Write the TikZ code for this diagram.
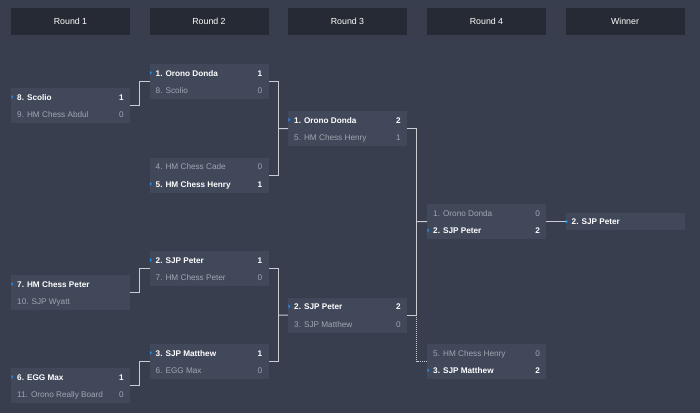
\documentclass[tikz,border=0pt]{standalone}
\usepackage{fontspec}
\setmainfont{Liberation Sans}
\definecolor{bgc}{RGB}{56,62,77}
\definecolor{hdrc}{RGB}{38,42,52}
\definecolor{boxc}{RGB}{65,72,90}
\definecolor{losec}{RGB}{160,165,176}
\definecolor{linec}{RGB}{200,203,210}
\definecolor{tric}{RGB}{30,136,229}
\tikzset{
  hdr/.style={fill=hdrc,text=white,minimum width=119pt,minimum height=27pt,inner sep=0pt,font=\fontsize{8.8}{10}\selectfont},
  mbox/.style={fill=boxc,minimum width=119pt,minimum height=35pt,inner sep=0pt},
  wbox/.style={fill=boxc,minimum width=119pt,minimum height=17.5pt,inner sep=0pt},
  wtxt/.style={text=white,inner sep=0pt,font=\fontsize{8.2}{10}\selectfont\bfseries},
  ltxt/.style={text=losec,inner sep=0pt,font=\fontsize{8.2}{10}\selectfont},
  conn/.style={draw=linec,line width=1pt},
  dotconn/.style={draw=linec,line width=1pt,dash pattern=on 1pt off 1pt},
  wtri/.style={fill=tric}
}
% name, x, ytop, style1, text1, score1, style2, text2, score2
\newcommand\mymatch[9]{%
  \node[mbox,anchor=north west] (#1) at (#2,#3) {};
  \node[#4,anchor=base west] (#1-a) at ({#2+6},{#3+12.2}) {#5};
  \node[#4,anchor=base east] (#1-as) at ({#2+113},{#3+12.2}) {#6};
  \node[#7,anchor=base west] (#1-b) at ({#2+6},{#3+29.7}) {#8};
  \node[#7,anchor=base east] (#1-bs) at ({#2+113},{#3+29.7}) {#9};
}
\newcommand\toptri[1]{\fill[wtri] (#1.north west) ++(0.3,6.8) -- ++(2.2,2.1) -- ++(-2.2,2.1) -- cycle;}
\newcommand\bottri[1]{\fill[wtri] (#1.north west) ++(0.3,24.3) -- ++(2.2,2.1) -- ++(-2.2,2.1) -- cycle;}
\begin{document}
\begin{tikzpicture}[x=1pt,y=-1pt]
\fill[bgc] (0,0) rectangle (700,413);
\useasboundingbox (0,0) rectangle (700,413);
% headers
\node[hdr] (h1) at (70.5,21.5) {Round 1};
\node[hdr] (h2) at (209,21.5) {Round 2};
\node[hdr] (h3) at (347.5,21.5) {Round 3};
\node[hdr] (h4) at (486.5,21.5) {Round 4};
\node[hdr] (h5) at (625,21.5) {Winner};
% round 1
\mymatch{r1m1}{11}{88}{wtxt}{8. Scolio}{1}{ltxt}{9. HM Chess Abdul}{0}
\toptri{r1m1}
\node[mbox,anchor=north west] (r1m2) at (11,275) {};
\node[wtxt,anchor=base west] (r1m2-a) at (17,287.2) {7. HM Chess Peter};
\node[ltxt,anchor=base west] (r1m2-b) at (17,304.7) {10. SJP Wyatt};
\toptri{r1m2}
\mymatch{r1m3}{11}{368}{wtxt}{6. EGG Max}{1}{ltxt}{11. Orono Really Board}{0}
\toptri{r1m3}
% round 2
\mymatch{r2m1}{149.5}{64}{wtxt}{1. Orono Donda}{1}{ltxt}{8. Scolio}{0}
\toptri{r2m1}
\mymatch{r2m2}{149.5}{157.5}{ltxt}{4. HM Chess Cade}{0}{wtxt}{5. HM Chess Henry}{1}
\bottri{r2m2}
\mymatch{r2m3}{149.5}{251}{wtxt}{2. SJP Peter}{1}{ltxt}{7. HM Chess Peter}{0}
\toptri{r2m3}
\mymatch{r2m4}{149.5}{344}{wtxt}{3. SJP Matthew}{1}{ltxt}{6. EGG Max}{0}
\toptri{r2m4}
% round 3
\mymatch{r3m1}{288}{111}{wtxt}{1. Orono Donda}{2}{ltxt}{5. HM Chess Henry}{1}
\toptri{r3m1}
\mymatch{r3m2}{288}{297.5}{wtxt}{2. SJP Peter}{2}{ltxt}{3. SJP Matthew}{0}
\toptri{r3m2}
% round 4
\mymatch{r4m1}{427}{204}{ltxt}{1. Orono Donda}{0}{wtxt}{2. SJP Peter}{2}
\bottri{r4m1}
\mymatch{r4m2}{427}{344}{ltxt}{5. HM Chess Henry}{0}{wtxt}{3. SJP Matthew}{2}
\bottri{r4m2}
% winner
\node[wbox,anchor=north west] (win) at (565.5,212.75) {};
\node[wtxt,anchor=base west] (win-a) at (571.5,224.95) {2. SJP Peter};
\fill[wtri] (win.north west) ++(0.3,6.8) -- ++(2.2,2.1) -- ++(-2.2,2.1) -- cycle;
% connectors round 1 -> 2
\draw[conn] (r1m1.east) -- ++(9.5,0) |- (r2m1.west);
\draw[conn] (r1m2.east) -- ++(9.5,0) |- (r2m3.west);
\draw[conn] (r1m3.east) -- ++(9.5,0) |- (r2m4.west);
% round 2 -> 3
\coordinate (j1) at (278.5,128.5);
\coordinate (j2) at (278.5,315);
\draw[conn] (r2m1.east) -| (j1) |- (r2m2.east);
\draw[conn] (j1) -- (r3m1.west);
\draw[conn] (r2m3.east) -| (j2) |- (r2m4.east);
\draw[conn] (j2) -- (r3m2.west);
% round 3 -> 4
\coordinate (j3) at (416.5,221.5);
\draw[conn] (r3m1.east) -| (j3) |- (r3m2.east);
\draw[conn] (j3) -- (r4m1.west);
\draw[dotconn] (r3m2.east -| j3) |- (r4m2.west);
% round 4 -> winner
\draw[conn] (r4m1.east) -- (win.west);
\end{tikzpicture}
\end{document}
